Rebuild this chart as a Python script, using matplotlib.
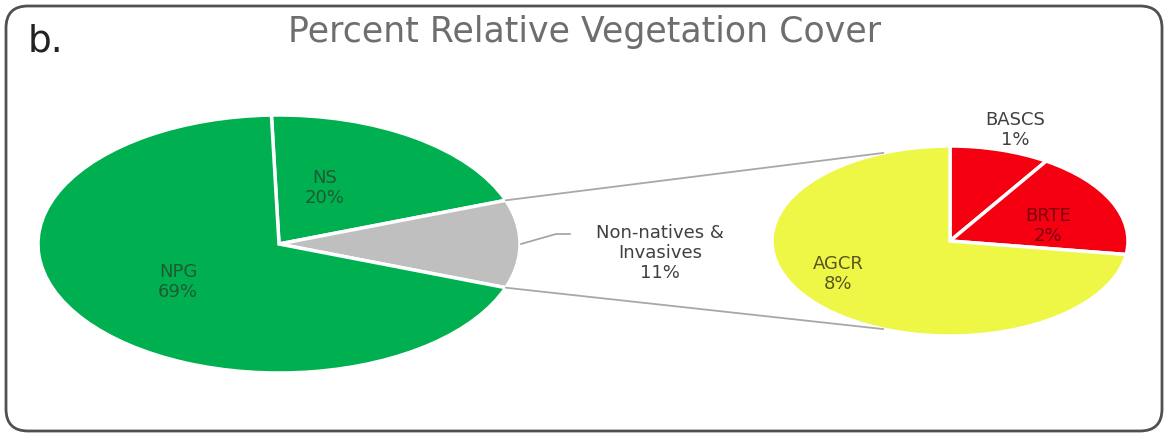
import numpy as np
import matplotlib
matplotlib.use('Agg')
import matplotlib.pyplot as plt
from matplotlib.patches import FancyBboxPatch, ConnectionPatch

# main pie: native groups plus the combined non-native share
main_names = ['NS', 'Non-natives &\nInvasives', 'NPG']
main_values = [20, 11, 69]
main_colors = ['#00B050', '#BFBFBF', '#00B050']

# breakdown of the non-native share
sub_names = ['BASCS', 'BRTE', 'AGCR']
sub_values = [1, 2, 8]
sub_colors = ['#F50010', '#F50010', '#EEF646']

W, H = 1170, 437
fig = plt.figure(figsize=(W / 100, H / 100), dpi=100)


def px_axes(x0, y0, x1, y1, **kw):
    # axes placed by pixel box (top-left origin)
    return fig.add_axes([x0 / W, 1 - y1 / H, (x1 - x0) / W, (y1 - y0) / H], **kw)


# background frame, title and panel letter
bg = px_axes(0, 0, W, H)
bg.set_xlim(0, W)
bg.set_ylim(H, 0)
bg.axis('off')
bg.add_patch(FancyBboxPatch((6, 6), W - 14, H - 12,
                            boxstyle='round,pad=0,rounding_size=22',
                            fc='white', ec='#505050', lw=2))
bg.text(28, 42, 'b.', fontsize=27, color='#222222', ha='left', va='center')
bg.text(585, 32, 'Percent Relative Vegetation Cover', fontsize=25,
        color='#6e6e6e', ha='center', va='center')

# left pie, stretched to an ellipse
ax1 = px_axes(38, 115, 520, 373)
other_share = main_values[1] / sum(main_values)
start1 = 360 * (main_values[1] / 2 + main_values[0]) / sum(main_values)
wedges1, _ = ax1.pie(main_values, colors=main_colors, startangle=start1,
                     counterclock=False, radius=1,
                     wedgeprops=dict(edgecolor='white', linewidth=2.5))
ax1.set_aspect('auto')
ax1.set_xlim(-1, 1)
ax1.set_ylim(-1, 1)

# right pie
ax2 = px_axes(772, 146, 1128, 336)
wedges2, _ = ax2.pie(sub_values, colors=sub_colors, startangle=90,
                     counterclock=False, radius=1,
                     wedgeprops=dict(edgecolor='white', linewidth=2.5))
ax2.set_aspect('auto')
ax2.set_xlim(-1, 1)
ax2.set_ylim(-1, 1)

# labels on a transparent overlay in pixel coordinates
top = fig.add_axes([0, 0, 1, 1], facecolor='none')
top.set_xlim(0, W)
top.set_ylim(H, 0)
top.axis('off')
txt_kw = dict(ha='center', va='center', fontsize=13, linespacing=1.15)
top.text(325, 188, f'{main_names[0]}\n{main_values[0]}%', color='#1f5a34', **txt_kw)
top.text(178, 282, f'{main_names[2]}\n{main_values[2]}%', color='#1f5a34', **txt_kw)
top.text(838, 274, f'{sub_names[2]}\n{sub_values[2]}%', color='#55571f', **txt_kw)
top.text(1048, 226, f'{sub_names[1]}\n{sub_values[1]}%', color='#7a0010', **txt_kw)
top.text(1015, 130, f'{sub_names[0]}\n{sub_values[0]}%', color='#404040', **txt_kw)
top.text(660, 253, f'{main_names[1]}\n{main_values[1]}%', color='#404040', **txt_kw)
top.plot([521, 556, 570], [244, 234, 234], color='#a0a0a0', lw=1.2)

# connectors from the grey wedge edges to the second pie
half = np.deg2rad(180 * other_share)
for sgn, ang in [(1, 112), (-1, -112)]:
    p1 = (np.cos(half), sgn * np.sin(half))
    a = np.deg2rad(ang)
    p2 = (np.cos(a), np.sin(a))
    con = ConnectionPatch(xyA=p1, coordsA=ax1.transData, xyB=p2, coordsB=ax2.transData,
                          color='#a8a8a8', lw=1.3, zorder=5)
    fig.add_artist(con)

fig.savefig('out.png', dpi=100)
